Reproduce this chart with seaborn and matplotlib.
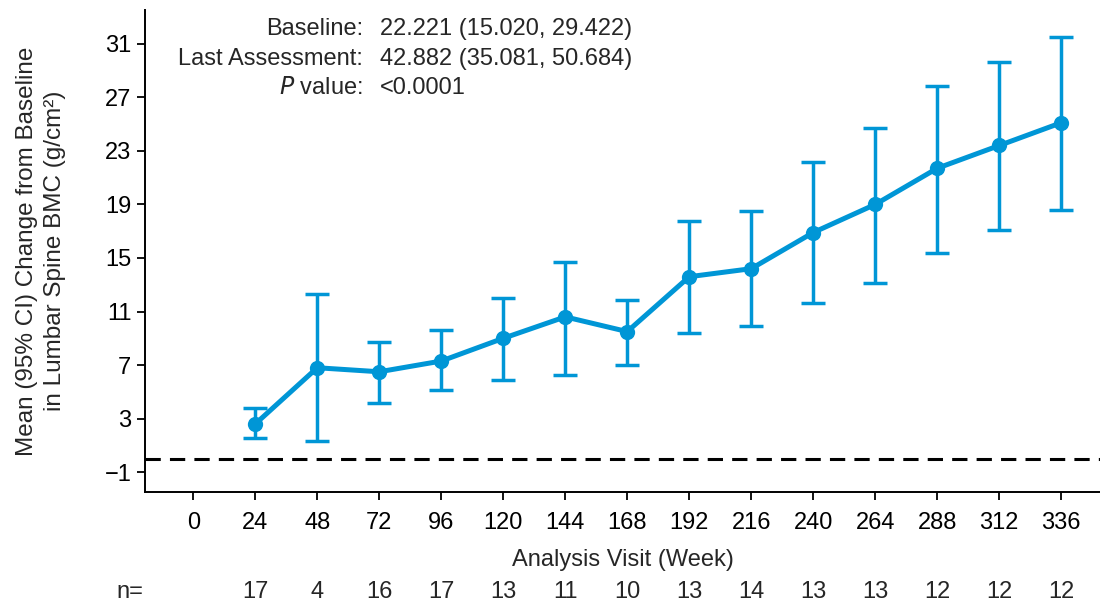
import matplotlib
matplotlib.use("Agg")
import matplotlib.pyplot as plt
import seaborn as sns
import pandas as pd

weeks = [24, 48, 72, 96, 120, 144, 168, 192, 216, 240, 264, 288, 312, 336]
means = [2.6, 6.8, 6.5, 7.3, 9.0, 10.6, 9.5, 13.6, 14.2, 16.9, 19.0, 21.7, 23.4, 25.1]
lower = [1.55, 1.35, 4.2, 5.15, 5.85, 6.25, 7.0, 9.4, 9.95, 11.65, 13.15, 15.4, 17.1, 18.55]
upper = [3.8, 12.3, 8.75, 9.6, 12.0, 14.7, 11.85, 17.75, 18.5, 22.2, 24.7, 27.85, 29.6, 31.5]
n_counts = [17, 4, 16, 17, 13, 11, 10, 13, 14, 13, 13, 12, 12, 12]
xticks = [0, 24, 48, 72, 96, 120, 144, 168, 192, 216, 240, 264, 288, 312, 336]
yticks = [-1, 3, 7, 11, 15, 19, 23, 27, 31]

sns.set_style("ticks")
plt.rcParams['font.family'] = ['Liberation Sans', 'DejaVu Sans']
plt.rcParams['axes.unicode_minus'] = True
fs = 17

blue = "#0096d6"
df = pd.DataFrame({"week": weeks, "mean": means})

fig = plt.figure(figsize=(11, 6.04), dpi=100)
ax = fig.add_axes([0.132, 0.185, 0.868, 0.798])

ax.axhline(0, color="black", lw=2.2, ls=(0, (5, 3)), zorder=1)

yerr = [[m - l for m, l in zip(means, lower)], [u - m for m, u in zip(means, upper)]]
ax.errorbar(weeks, means, yerr=yerr, fmt="none", ecolor=blue, elinewidth=2.5,
            capsize=8.5, capthick=2.5, zorder=2)
sns.lineplot(data=df, x="week", y="mean", ax=ax, color=blue, lw=3.6,
             marker="o", markersize=11, markeredgewidth=0, zorder=3)

ax.set_xlim(-18.6, 351)
ax.set_ylim(-2.5, 33.5)
ax.set_xticks(xticks)
ax.set_yticks(yticks)
ax.tick_params(axis="both", length=6, width=1.3, direction="out", labelsize=fs, colors="black")
ax.tick_params(axis="x", pad=8)
ax.tick_params(axis="y", pad=4)
for s in ["top", "right"]:
    ax.spines[s].set_visible(False)
for s in ["left", "bottom"]:
    ax.spines[s].set_linewidth(1.4)
    ax.spines[s].set_color("black")

ax.set_xlabel("Analysis Visit (Week)", fontsize=fs, labelpad=11)
ax.set_ylabel("Mean (95% CI) Change from Baseline\nin Lumbar Spine BMC (g/cm²)",
              fontsize=fs + 0.5, labelpad=28, linespacing=1.3)

# n= row under the axis
trans = ax.get_xaxis_transform()
ny = -100 / 482
ax.text(-24.4, ny, "n=", transform=trans, ha="center", va="center", fontsize=fs)
for w, c in zip(weeks, n_counts):
    ax.text(w, ny, str(c), transform=trans, ha="center", va="center", fontsize=fs)

# summary text in the top-left corner
lab_x, val_x = 363 / 1100, 380 / 1100
rows = [("Baseline:", "22.221 (15.020, 29.422)", 29),
        ("Last Assessment:", "42.882 (35.081, 50.684)", 59),
        ("$\\it{P}$ value:", "<0.0001", 88)]
for lab, val, py in rows:
    fy = 1 - py / 604
    fig.text(lab_x, fy, lab, ha="right", va="center", fontsize=fs)
    fig.text(val_x, fy, val, ha="left", va="center", fontsize=fs)

fig.savefig("out.png", dpi=100)
